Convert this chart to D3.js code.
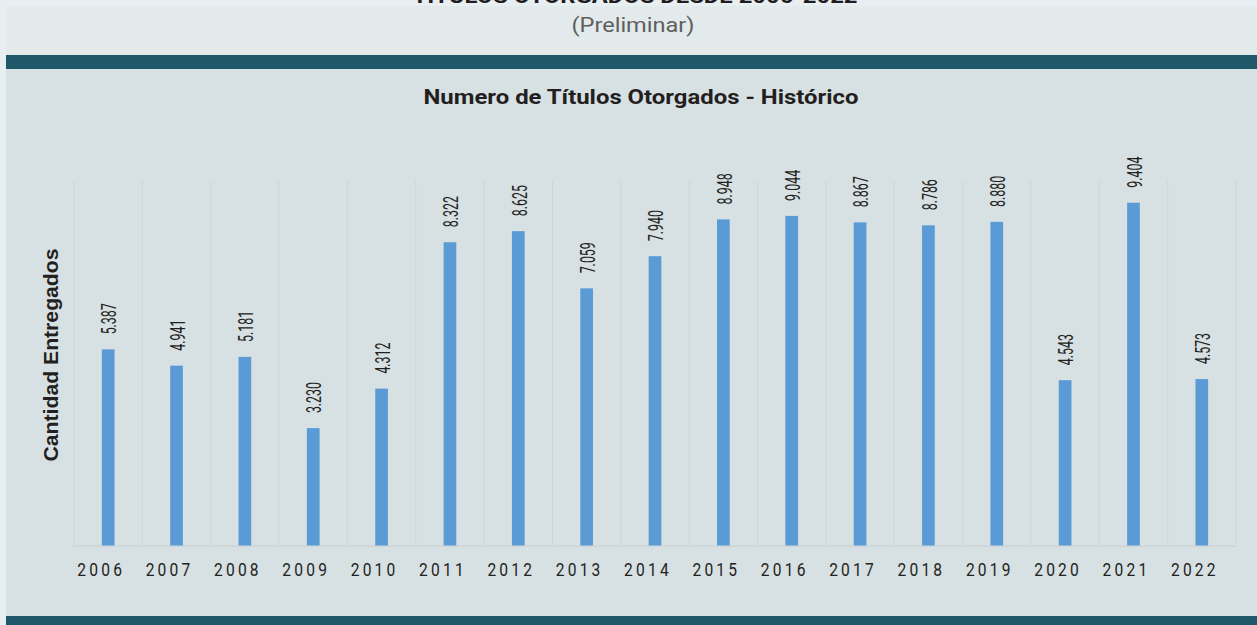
<!DOCTYPE html>
<html>
<head>
<meta charset="utf-8">
<script src="https://cdn.jsdelivr.net/npm/d3@7"></script>
<style>
	html, body { margin: 0; padding: 0; background: #e8eef1; }
	svg { display: block; }
</style>
</head>
<body>
<svg id="chart" width="1257" height="625"></svg>
<script>
"use strict";

// data
var years = ["2006", "2007", "2008", "2009", "2010", "2011", "2012", "2013", "2014",
	"2015", "2016", "2017", "2018", "2019", "2020", "2021", "2022"];
var titulos = [5387, 4941, 5181, 3230, 4312, 8322, 8625, 7059, 7940,
	8948, 9044, 8867, 8786, 8880, 4543, 9404, 4573];
var yDomain = [0, 10000];

var pageTitle = "TÍTULOS OTORGADOS DESDE 2006-2022";
var pageSubtitle = "(Preliminar)";
var chartTitle = "Numero de Títulos Otorgados - Histórico";
var yTitle = "Cantidad Entregados";

(function() {
	var svg = d3.select("#chart");
	var W = 1257, H = 625;
	var plot = {left: 74, right: 1236, top: 181, bottom: 546};

	// spanish number format: 5.387
	var es = d3.formatLocale({decimal: ",", thousands: ".", grouping: [3], currency: ["$", ""]});
	var fmt = es.format(",d");

	// background panels
	svg.append("rect").attr("x", 6).attr("y", 6).attr("width", W - 6).attr("height", 49)
		.attr("fill", "#e3eaec");
	svg.append("rect").attr("x", 6).attr("y", 55).attr("width", W - 6).attr("height", 14)
		.attr("fill", "#1f5868");
	svg.append("rect").attr("x", 6).attr("y", 69).attr("width", W - 6).attr("height", 547)
		.attr("fill", "#d7e0e3");
	svg.append("rect").attr("x", 6).attr("y", 616).attr("width", W - 6).attr("height", 9)
		.attr("fill", "#1f5868");

	// page heading (cut off at the top, as in the source)
	svg.append("text")
		.attr("x", 635).attr("y", 3)
		.attr("text-anchor", "middle")
		.attr("textLength", 445).attr("lengthAdjust", "spacingAndGlyphs")
		.style("font", "bold 21px Roboto, sans-serif")
		.attr("fill", "#1e1e1e")
		.text(pageTitle);
	svg.append("text")
		.attr("x", 633).attr("y", 32)
		.attr("text-anchor", "middle")
		.attr("textLength", 123).attr("lengthAdjust", "spacingAndGlyphs")
		.style("font", "20px Roboto, sans-serif")
		.attr("fill", "#5f5f5f")
		.text(pageSubtitle);

	// chart title
	svg.append("text")
		.attr("x", 641).attr("y", 104)
		.attr("text-anchor", "middle")
		.attr("textLength", 435).attr("lengthAdjust", "spacingAndGlyphs")
		.style("font", "bold 21px Roboto, sans-serif")
		.attr("fill", "#231f20")
		.text(chartTitle);

	var x = d3.scaleBand().domain(years).range([plot.left, plot.right]).padding(0);
	var y = d3.scaleLinear().domain(yDomain).range([plot.bottom, plot.top]);
	var barW = 12.7;

	// vertical category gridlines
	var bounds = years.map(function(d) { return x(d); }).concat([plot.right]);
	svg.append("g").selectAll("line").data(bounds).join("line")
		.attr("x1", function(d) { return d; }).attr("x2", function(d) { return d; })
		.attr("y1", plot.top).attr("y2", plot.bottom)
		.attr("stroke", "#cdd5d8").attr("stroke-width", 1);

	// baseline
	svg.append("line")
		.attr("x1", plot.left).attr("x2", plot.right)
		.attr("y1", plot.bottom).attr("y2", plot.bottom)
		.attr("stroke", "#cdd5d8").attr("stroke-width", 1.5);

	var data = years.map(function(d, i) { return {year: d, value: titulos[i]}; });

	// bars
	svg.append("g").selectAll("rect").data(data).join("rect")
		.attr("x", function(d) { return x(d.year) + x.bandwidth() / 2 - barW / 2; })
		.attr("y", function(d) { return y(d.value); })
		.attr("width", barW)
		.attr("height", function(d) { return y(0) - y(d.value) - 0.5; })
		.attr("fill", "#5b9bd5");

	// value labels, rotated and condensed
	svg.append("g").selectAll("text").data(data).join("text")
		.attr("transform", function(d) {
			var cx = x(d.year) + x.bandwidth() / 2 + 1;
			return "translate(" + cx + "," + (y(d.value) - 15) + ") rotate(-90) scale(0.62,1)";
		})
		.attr("dy", "0.36em")
		.style("font", "20px Roboto, sans-serif")
		.attr("fill", "#231f20")
		.text(function(d) { return fmt(d.value); });

	// x axis labels
	svg.append("g").selectAll("text").data(years).join("text")
		.attr("transform", function(d) {
			return "translate(" + (x(d) + x.bandwidth() / 2 - 7) + ",576) scale(0.82,1)";
		})
		.attr("text-anchor", "middle")
		.style("font", "19px Roboto, sans-serif")
		.style("letter-spacing", "3.9px")
		.attr("fill", "#231f20")
		.text(function(d) { return d; });

	// y axis title
	svg.append("text")
		.attr("transform", "translate(57.5," + 355 + ") rotate(-90)")
		.attr("text-anchor", "middle")
		.attr("textLength", 213).attr("lengthAdjust", "spacingAndGlyphs")
		.style("font", "bold 20px 'Liberation Sans', Arial, sans-serif")
		.attr("fill", "#231f20")
		.text(yTitle);
}());
</script>
</body>
</html>
